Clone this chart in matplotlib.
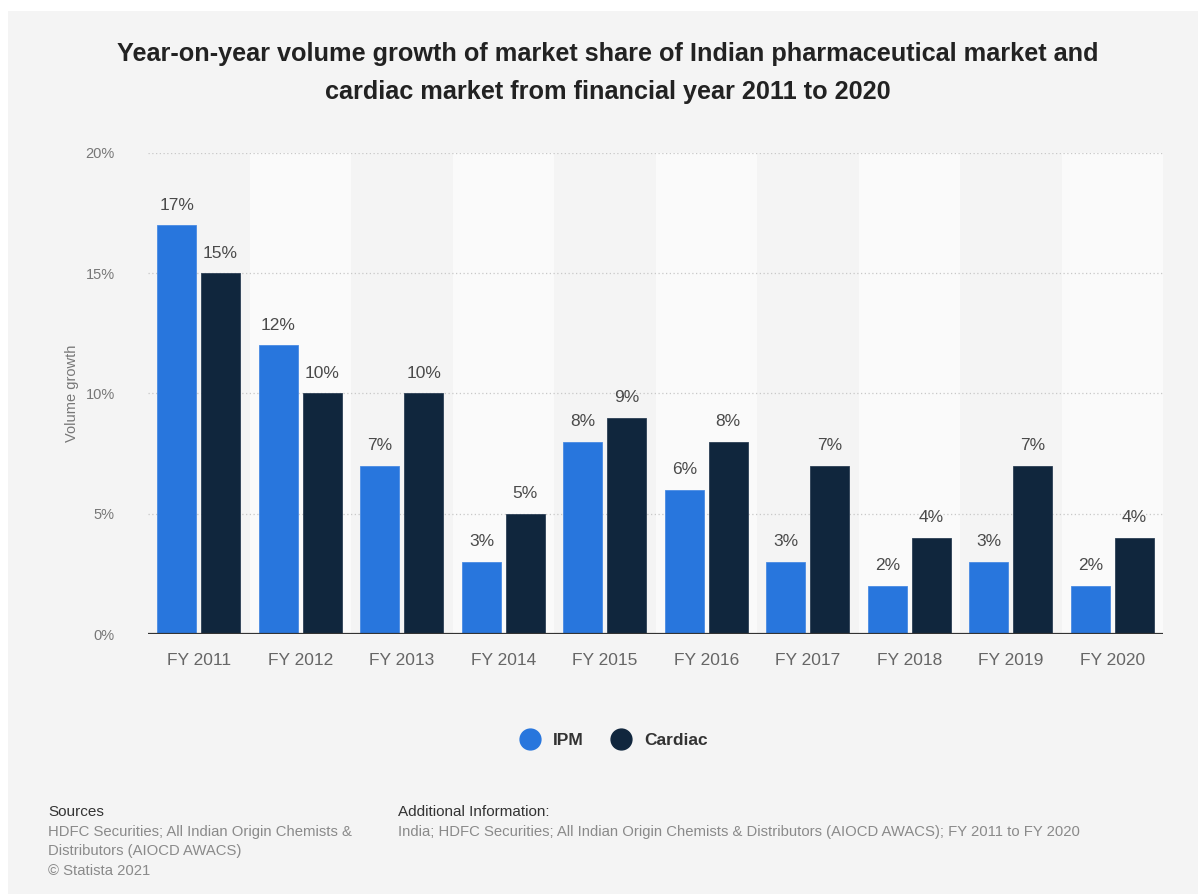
import matplotlib
matplotlib.use("Agg")
import matplotlib.pyplot as plt
from matplotlib.patches import Rectangle
from matplotlib.lines import Line2D
import numpy as np

plt.rcParams['font.family'] = ['Liberation Sans', 'DejaVu Sans']

years = ["FY 2011", "FY 2012", "FY 2013", "FY 2014", "FY 2015",
         "FY 2016", "FY 2017", "FY 2018", "FY 2019", "FY 2020"]
ipm = [17, 12, 7, 3, 8, 6, 3, 2, 3, 2]
cardiac = [15, 10, 10, 5, 9, 8, 7, 4, 7, 4]
yticks = [0, 5, 10, 15, 20]

title = ("Year-on-year volume growth of market share of Indian pharmaceutical market and\n"
         "cardiac market from financial year 2011 to 2020")
sources = "HDFC Securities; All Indian Origin Chemists &\nDistributors (AIOCD AWACS)\n\u00a9 Statista 2021"
additional = "India; HDFC Securities; All Indian Origin Chemists & Distributors (AIOCD AWACS); FY 2011 to FY 2020"

blue = "#2876dd"
navy = "#10263d"

W, H = 1198, 894
fig = plt.figure(figsize=(W / 100, H / 100), dpi=100, facecolor="white")

# grey panel behind everything
fig.patches.append(Rectangle((8 / W, 0), 1 - 8 / W, 1 - 11 / H, transform=fig.transFigure,
                             facecolor="#f4f4f4", edgecolor="none", zorder=-10))

ax = fig.add_axes([148 / W, 1 - 634 / H, (1163 - 148) / W, (634 - 153) / H])
ax.set_facecolor("none")

x = np.arange(len(years))
bw = 0.385
off = 0.215

# lighter band behind every second category
for i in x:
    if i % 2 == 1:
        ax.axvspan(i - 0.5, i + 0.5, ymin=0, ymax=1, color="#fafafa", zorder=0, lw=0)

for t in yticks[1:]:
    ax.axhline(t, color="#c8c8c8", lw=0.9, ls=(0, (1, 2)), zorder=1)

b1 = ax.bar(x - off, ipm, bw, color=blue, edgecolor="#4a8be3", lw=0.6, zorder=3)
b2 = ax.bar(x + off, cardiac, bw, color=navy, edgecolor="#2c3f55", lw=0.6, zorder=3)

for bars, vals in ((b1, ipm), (b2, cardiac)):
    for rect, v in zip(bars, vals):
        ax.annotate(f"{v}%", (rect.get_x() + rect.get_width() / 2, v),
                    xytext=(0, 9), textcoords="offset points",
                    ha="center", va="bottom", fontsize=12.5, color="#4a4a4a")

ax.axhline(0, color="#333333", lw=1.6, zorder=4)

ax.set_xlim(-0.5, len(years) - 0.5)
ax.set_ylim(0, 20)
ax.set_yticks(yticks)
ax.set_yticklabels([f"{t}%" for t in yticks], fontsize=10.5, color="#777777")
ax.set_xticks(x)
ax.set_xticklabels(years, fontsize=12.5, color="#666666")
ax.tick_params(axis="both", length=0)
ax.tick_params(axis="y", pad=24)
ax.tick_params(axis="x", pad=14)
for s in ax.spines.values():
    s.set_visible(False)

fig.text(72 / W, 1 - 393 / H, "Volume growth", rotation=90, ha="center", va="center",
         fontsize=10.5, color="#777777")

fig.text(608 / W, 1 - 73 / H, title, ha="center", va="center", fontsize=18.2,
         fontweight="bold", color="#222222", linespacing=1.7)

handles = [Line2D([], [], ls="none", marker="o", ms=15, color=blue),
           Line2D([], [], ls="none", marker="o", ms=15, color=navy)]
leg = fig.legend(handles, ["IPM", "Cardiac"], loc="center", bbox_to_anchor=(610 / W, 1 - 740 / H),
                 ncol=2, frameon=False, handletextpad=0.3, columnspacing=1.2,
                 prop={"weight": "bold", "size": 12.5})
for t in leg.get_texts():
    t.set_color("#333333")

fig.text(48 / W, 1 - 812 / H, "Sources", ha="left", va="center", fontsize=11, color="#333333")
fig.text(48 / W, 1 - 825 / H, sources, ha="left", va="top", fontsize=10.7, color="#8a8a8a",
         linespacing=1.5)
fig.text(398 / W, 1 - 812 / H, "Additional Information:", ha="left", va="center",
         fontsize=11, color="#333333")
fig.text(398 / W, 1 - 825 / H, additional, ha="left", va="top", fontsize=10.7, color="#8a8a8a")

fig.savefig("out.png", dpi=100, facecolor=fig.get_facecolor())
